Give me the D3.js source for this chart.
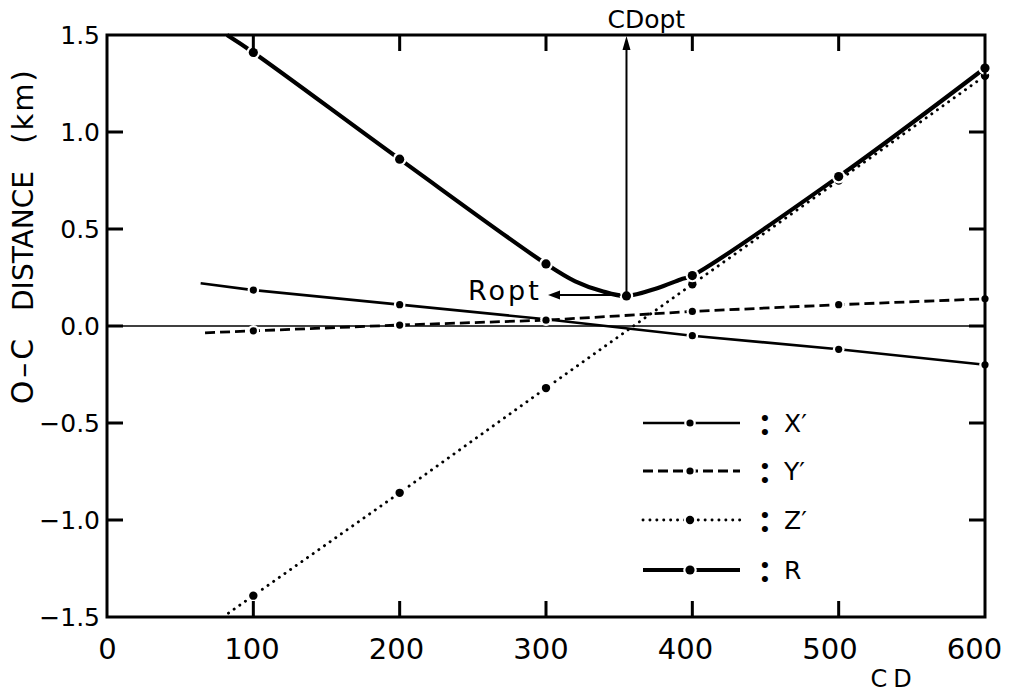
<!DOCTYPE html>
<html>
<head>
<meta charset="utf-8">
<script src="https://cdn.jsdelivr.net/npm/d3@7/dist/d3.min.js"></script>
<style>
  html, body { margin: 0; padding: 0; background: #fff; }
  svg { display: block; font-family: "DejaVu Sans", sans-serif; }
</style>
</head>
<body>
<svg id="chart" width="1012" height="694"></svg>
<script>
// Sampled CD values (marked points)
const cdMarks = [100, 200, 300, 400, 500, 600];

// O-C distance components (km) at the marked CD values
const xPrime = [0.185, 0.11, 0.035, -0.05, -0.12, -0.20];
const yPrime = [-0.025, 0.005, 0.03, 0.075, 0.11, 0.14];
const zPrime = [-1.39, -0.86, -0.32, 0.215, 0.75, 1.29];
const rDist  = [1.41, 0.86, 0.32, 0.26, 0.77, 1.33];

// Where each line begins on the left, [CD, km]
const xPrimeStart = [64, 0.22];
const yPrimeStart = [67, -0.035];
const zPrimeStart = [83, -1.48];
const rStart      = [82, 1.50];

// Shape of R around its minimum, [CD, km]
const rValley = [[320, 0.23], [338, 0.18], [355, 0.155], [376, 0.195], [392, 0.24]];

// Optimum
const cdOpt = 355;
const rOpt = 0.155;

// Axis ticks
const xTicks = [0, 100, 200, 300, 400, 500, 600];
const yTicks = [-1.5, -1.0, -0.5, 0.0, 0.5, 1.0, 1.5];

const legendItems = [
  { key: "X", label: "X\u2032" },
  { key: "Y", label: "Y\u2032" },
  { key: "Z", label: "Z\u2032" },
  { key: "R", label: "R" }
];

const plotLeft = 107, plotRight = 985, plotTop = 35, plotBottom = 617;
const tickLen = 16;
const svg = d3.select("#chart");

const x = d3.scaleLinear().domain([0, 600]).range([plotLeft, plotRight]);
const y = d3.scaleLinear().domain([-1.5, 1.5]).range([plotBottom, plotTop]);
// tick labels sit slightly tighter than the ticks themselves
const xLabel = d3.scaleLinear().domain([0, 600]).range([plotLeft, 974]);

const styles = {
  X: { width: 2.6, dash: null, cap: "butt", r: 3.6 },
  Y: { width: 2.8, dash: "10,5", cap: "butt", r: 3.6 },
  Z: { width: 2.9, dash: "0.1,6.8", cap: "round", r: 4.2 },
  R: { width: 4.2, dash: null, cap: "butt", r: 4.6 }
};

// ---- zero reference line
svg.append("line")
  .attr("x1", x(0)).attr("x2", x(600))
  .attr("y1", y(0)).attr("y2", y(0))
  .attr("stroke", "#000").attr("stroke-width", 1.6);

// ---- series
const straight = d3.line().x(d => x(d[0])).y(d => y(d[1]));
const smooth = d3.line().x(d => x(d[0])).y(d => y(d[1])).curve(d3.curveCatmullRom.alpha(0.5));

function pairs(vals) { return cdMarks.map((c, i) => [c, vals[i]]); }

const series = [
  { key: "X", pts: [xPrimeStart].concat(pairs(xPrime)), marks: pairs(xPrime), gen: straight },
  { key: "Y", pts: [yPrimeStart].concat(pairs(yPrime)), marks: pairs(yPrime), gen: straight },
  { key: "Z", pts: [zPrimeStart].concat(pairs(zPrime)), marks: pairs(zPrime), gen: straight },
  {
    key: "R",
    pts: [rStart].concat(pairs(rDist).slice(0, 3), rValley, pairs(rDist).slice(3)),
    marks: pairs(rDist).slice(0, 3).concat([[cdOpt, rOpt]], pairs(rDist).slice(3)),
    gen: smooth
  }
];

series.forEach(s => {
  const st = styles[s.key];
  const g = svg.append("g");
  g.append("path")
    .attr("d", s.gen(s.pts))
    .attr("fill", "none")
    .attr("stroke", "#000")
    .attr("stroke-width", st.width)
    .attr("stroke-linecap", st.cap)
    .attr("stroke-dasharray", st.dash);
  // small white break around each point
  g.selectAll("circle.halo").data(s.marks).join("circle")
    .attr("class", "halo")
    .attr("cx", d => x(d[0])).attr("cy", d => y(d[1]))
    .attr("r", st.r + 2.2).attr("fill", "#fff");
  g.selectAll("circle.dot").data(s.marks).join("circle")
    .attr("class", "dot")
    .attr("cx", d => x(d[0])).attr("cy", d => y(d[1]))
    .attr("r", st.r).attr("fill", "#000");
});

// ---- frame
svg.append("rect")
  .attr("x", plotLeft).attr("y", plotTop)
  .attr("width", plotRight - plotLeft).attr("height", plotBottom - plotTop)
  .attr("fill", "none").attr("stroke", "#000").attr("stroke-width", 3);

// ---- inward ticks on all four sides (filled bars)
const innerX = xTicks.slice(1, -1), innerY = yTicks.slice(1, -1);
const tickW = 3;
const tickG = svg.append("g").attr("class", "frame-ticks").attr("fill", "#000");
innerX.forEach(v => {
  tickG.append("rect").attr("x", x(v) - tickW / 2).attr("y", plotBottom - tickLen)
    .attr("width", tickW).attr("height", tickLen);
  tickG.append("rect").attr("x", x(v) - tickW / 2).attr("y", plotTop)
    .attr("width", tickW).attr("height", tickLen);
});
innerY.forEach(v => {
  tickG.append("rect").attr("x", plotLeft).attr("y", y(v) - tickW / 2)
    .attr("width", tickLen).attr("height", tickW);
  tickG.append("rect").attr("x", plotRight - tickLen).attr("y", y(v) - tickW / 2)
    .attr("width", tickLen).attr("height", tickW);
});

// ---- tick labels
svg.append("g").attr("transform", `translate(${plotLeft},0)`)
  .call(d3.axisLeft(y).tickValues(yTicks).tickSize(0).tickPadding(7).tickFormat(d3.format(".1f")))
  .call(g => g.select(".domain").remove())
  .call(g => g.selectAll("text").attr("font-size", 25).attr("fill", "#000")
    .attr("font-family", "DejaVu Sans, sans-serif"));

svg.append("g").attr("transform", `translate(0,${plotBottom})`)
  .call(d3.axisBottom(xLabel).tickValues(xTicks).tickSize(0).tickPadding(21).tickFormat(d3.format("d")))
  .call(g => g.select(".domain").remove())
  .call(g => g.selectAll("text").attr("font-size", 29).attr("fill", "#000")
    .attr("font-family", "DejaVu Sans, sans-serif"));

// ---- axis titles
const yTitle = svg.append("g").attr("transform", "translate(33,0) rotate(-90)");
[["O\u2013C", 370, 30, 3], ["DISTANCE", 241, 28, 0], ["(km)", 106, 29, 2]].forEach(([t, pos, fs, ls]) => {
  yTitle.append("text")
    .attr("x", -pos).attr("y", 0)
    .attr("text-anchor", "middle")
    .attr("font-size", fs)
    .attr("letter-spacing", ls)
    .text(t);
});

svg.append("text")
  .attr("x", 894).attr("y", 687)
  .attr("text-anchor", "middle")
  .attr("font-size", 24)
  .attr("letter-spacing", 6)
  .text("CD");

// ---- optimum annotations
const arrowTop = y(1.5) + 1;
svg.append("line")
  .attr("x1", x(cdOpt)).attr("x2", x(cdOpt))
  .attr("y1", y(rOpt)).attr("y2", arrowTop + 10)
  .attr("stroke", "#000").attr("stroke-width", 2);
svg.append("path")
  .attr("d", `M${x(cdOpt)},${arrowTop} l-4,14 l8,0 z`)
  .attr("fill", "#000");
svg.append("text")
  .attr("x", x(cdOpt) - 19).attr("y", 28)
  .attr("font-size", 25)
  .text("CDopt");

const hy = y(rOpt) - 1;
const tipX = 548;
svg.append("line")
  .attr("x1", x(cdOpt) - 6).attr("x2", tipX + 8)
  .attr("y1", hy).attr("y2", hy)
  .attr("stroke", "#000").attr("stroke-width", 2);
svg.append("path")
  .attr("d", `M${tipX},${hy} l12,-4.5 l0,9 z`)
  .attr("fill", "#000");
svg.append("text")
  .attr("x", 468).attr("y", 300)
  .attr("font-size", 27)
  .attr("letter-spacing", 3)
  .text("Ropt");

// ---- legend
const legend = svg.append("g");
const rowY = [423, 471, 520, 570];
legendItems.forEach((item, i) => {
  const st = styles[item.key];
  const row = legend.append("g").attr("transform", `translate(0,${rowY[i]})`);
  row.append("line")
    .attr("x1", 643).attr("x2", 740).attr("y1", 0).attr("y2", 0)
    .attr("stroke", "#000").attr("stroke-width", st.width)
    .attr("stroke-linecap", st.cap)
    .attr("stroke-dasharray", st.dash);
  row.append("circle").attr("cx", 690).attr("cy", 0).attr("r", st.r + 2.2).attr("fill", "#fff");
  row.append("circle").attr("cx", 690).attr("cy", 0).attr("r", st.r).attr("fill", "#000");
  row.append("text")
    .attr("x", 765).attr("y", 12)
    .attr("text-anchor", "middle")
    .attr("font-family", "Lato, sans-serif")
    .attr("font-size", 40).attr("font-weight", "bold")
    .text(":");
  row.append("text")
    .attr("x", 784).attr("y", 9)
    .attr("font-size", 25)
    .text(item.label);
});
</script>
</body>
</html>
